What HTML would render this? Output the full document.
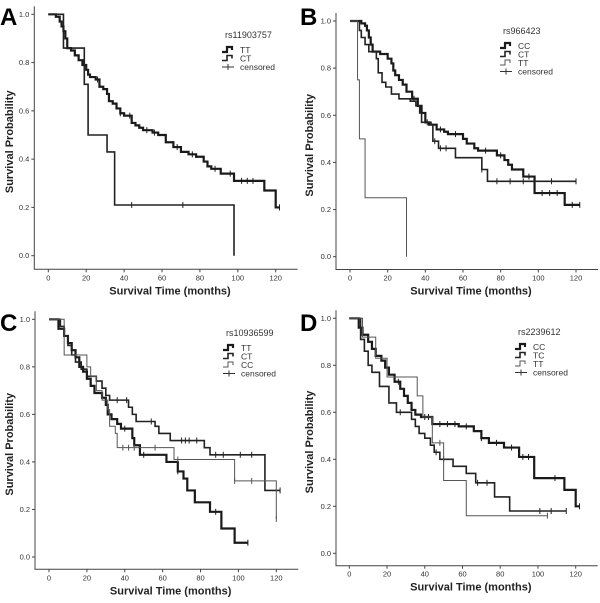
<!DOCTYPE html>
<html><head><meta charset="utf-8"><style>
body{margin:0;background:#fff}
svg{display:block;font-family:"Liberation Sans",sans-serif}
</style></head><body>
<svg id="fig" width="600" height="603" viewBox="0 0 600 603"></svg>
<script>
// ---- data ----
const xTicks=[0,20,40,60,80,100,120];
const yTicks=[0,0.2,0.4,0.6,0.8,1.0];
const yTickLabels=["0.0","0.2","0.4","0.6","0.8","1.0"];
const panelLetters=["A","B","C","D"];
const snpNames=["rs11903757","rs966423","rs10936599","rs2239612"];
const groupsA=["TT","CT"];
const groupsB=["CC","CT","TT"];
const groupsC=["TT","CT","CC"];
const groupsD=["CC","TC","TT"];
const a_TT=[[0,1],[4,0.99],[6,0.97],[7,0.95],[8,0.93],[9,0.9],[10,0.86],[12,0.85],[14,0.83],[16,0.81],[18,0.79],[20,0.77],[21,0.75],[22,0.74],[25,0.73],[27,0.7],[29,0.69],[31,0.67],[32,0.64],[34,0.63],[36,0.61],[38,0.59],[40,0.58],[44,0.55],[46,0.54],[48,0.53],[50,0.52],[55,0.51],[58,0.5],[62,0.47],[66,0.45],[70,0.43],[74,0.42],[78,0.41],[82,0.39],[84,0.37],[86,0.36],[91,0.34],[98,0.31],[114,0.27],[120,0.2],[122,0.2]];
const a_CT=[[0,1],[8,0.86],[19,0.71],[21,0.5],[31,0.43],[35,0.21],[98,0]];
const a_TT_cens=[26,38,43,52,56,68,76,88,96,102,105,108,122];
const a_CT_cens=[44,71];
const b_CC=[[0,1],[6,0.99],[8,0.98],[9,0.96],[10,0.93],[11,0.9],[12,0.87],[16,0.86],[20,0.84],[22,0.82],[23,0.79],[24,0.77],[26,0.75],[28,0.73],[30,0.7],[33,0.67],[36,0.64],[38,0.61],[40,0.57],[42,0.56],[46,0.54],[50,0.53],[52,0.52],[60,0.5],[62,0.48],[66,0.46],[68,0.45],[78,0.43],[82,0.41],[84,0.39],[86,0.37],[92,0.34],[98,0.27],[114,0.22],[122,0.22]];
const b_CT=[[0,1],[5,0.96],[6,0.93],[8,0.9],[10,0.87],[14,0.84],[15,0.78],[17,0.74],[19,0.72],[22,0.69],[26,0.67],[32,0.66],[35,0.64],[37,0.61],[38,0.57],[43,0.56],[44,0.49],[47,0.46],[56,0.42],[70,0.37],[73,0.32],[120,0.32]];
const b_TT=[[0,1],[4,0.75],[5,0.5],[8,0.25],[30,0]];
const b_CC_cens=[34,41,48,56,72,80,95,102,106,110,118,122];
const b_CT_cens=[45,48,51,70,78,85,92,107,120];
const b_TT_cens=[];
const c_TT=[[0,1],[5,0.96],[8,0.93],[10,0.9],[12,0.87],[14,0.84],[16,0.8],[18,0.78],[20,0.75],[22,0.72],[24,0.69],[28,0.67],[30,0.64],[31,0.6],[33,0.58],[36,0.56],[38,0.54],[44,0.5],[45,0.47],[48,0.43],[62,0.4],[68,0.36],[71,0.33],[73,0.28],[77,0.23],[85,0.19],[91,0.12],[98,0.06],[105,0.06]];
const c_CT=[[0,1],[6,0.97],[8,0.93],[10,0.89],[12,0.85],[14,0.82],[17,0.79],[20,0.76],[25,0.74],[28,0.71],[30,0.68],[32,0.66],[42,0.63],[44,0.6],[46,0.57],[56,0.55],[58,0.52],[64,0.49],[82,0.46],[85,0.43],[114,0.28],[122,0.28]];
const c_CC=[[0,1],[8,0.85],[20,0.8],[22,0.76],[25,0.7],[28,0.66],[31,0.62],[32,0.55],[35,0.52],[36,0.46],[66,0.41],[98,0.32],[120,0.16]];
const c_TT_cens=[40,50,68,88,105];
const c_CT_cens=[36,41,54,70,72,74,78,88,92,101,107,122];
const c_CC_cens=[39,42,45,56,68,98,107,120];
const d_CC=[[0,1],[5,0.96],[7,0.93],[10,0.9],[12,0.87],[14,0.84],[17,0.82],[19,0.79],[21,0.76],[24,0.73],[27,0.7],[29,0.67],[31,0.64],[33,0.61],[35,0.59],[38,0.58],[44,0.55],[58,0.54],[66,0.52],[70,0.49],[74,0.47],[82,0.45],[90,0.41],[98,0.32],[114,0.27],[120,0.2],[122,0.2]];
const d_TC=[[0,1],[6,0.91],[8,0.86],[10,0.8],[12,0.77],[16,0.71],[21,0.64],[25,0.6],[33,0.57],[35,0.54],[37,0.51],[40,0.49],[43,0.46],[45,0.43],[48,0.4],[55,0.37],[62,0.34],[67,0.3],[77,0.24],[85,0.18],[115,0.18]];
const d_TT=[[0,1],[7,0.92],[14,0.83],[20,0.75],[36,0.67],[39,0.58],[44,0.47],[50,0.31],[62,0.16],[105,0.16]];
const d_CC_cens=[26,40,42,48,52,56,62,70,78,86,92,95,109,122];
const d_TC_cens=[27,46,50,68,73,101,107,115];
const d_TT_cens=[48,105];

const panels=[
 {ox:0,oy:0,x0:48.3,x120:275.7,y1:14.3,y0:255.7,axL:34.3,axB:269.3,leg:[222,38],groups:groupsA,curves:[a_TT,a_CT],cens:[a_TT_cens,a_CT_cens]},
 {ox:300,oy:0,x0:50,x120:276,y1:21,y0:256.7,axL:36,axB:269.5,leg:[200,34],groups:groupsB,curves:[b_CC,b_CT,b_TT],cens:[b_CC_cens,b_CT_cens,b_TT_cens]},
 {ox:0,oy:300,x0:49,x120:276.3,y1:19.3,y0:257,axL:35,axB:269.3,leg:[223,36],groups:groupsC,curves:[c_TT,c_CT,c_CC],cens:[c_TT_cens,c_CT_cens,c_CC_cens]},
 {ox:300,oy:300,x0:49.3,x120:275.7,y1:18.3,y0:253.3,axL:36,axB:265.7,leg:[215,35],groups:groupsD,curves:[d_CC,d_TC,d_TT],cens:[d_CC_cens,d_TC_cens,d_TT_cens]}
];
const widths=[2.2,1.6,1];
const colors=["#1a1a1a","#222","#555"];
const NS="http://www.w3.org/2000/svg";
const svg=document.getElementById("fig");
function mk(tag,attrs,parent){const e=document.createElementNS(NS,tag);for(const k in attrs)e.setAttribute(k,attrs[k]);parent.appendChild(e);return e;}
function survAt(c,t){let s=c[0][1];for(const p of c){if(p[0]<=t)s=p[1];}return s;}

panels.forEach((P,pi)=>{
 const g=mk("g",{transform:`translate(${P.ox},${P.oy})`},svg);
 
 
 const xs=t=>P.x0+(P.x120-P.x0)*t/120;
 const ys=s=>P.y0-(P.y0-P.y1)*s;
 const ax=mk("path",{d:`M${P.axL},${P.y1-8} V${P.axB} H${P.x120+22}`,fill:"none",stroke:"#444","stroke-width":1},g);
 
 
 xTicks.forEach(v=>{
  mk("line",{x1:xs(v),x2:xs(v),y1:P.axB,y2:P.axB+3,stroke:"#444"},g);
  const t=mk("text",{x:xs(v),y:P.axB+11,"font-size":7.5,"text-anchor":"middle",fill:"#333"},g);
  t.textContent=v;
  
  
 });
 yTicks.forEach((v,i)=>{
  mk("line",{x1:P.axL-3,x2:P.axL,y1:ys(v),y2:ys(v),stroke:"#444"},g);
  const t=mk("text",{x:P.axL-5,y:ys(v)+2.5,"font-size":7.5,"text-anchor":"end",fill:"#333"},g);
  t.textContent=yTickLabels[i];
  
  
 });
 const xt=mk("text",{x:(P.axL+P.x120+22)/2+4,y:P.axB+25,"font-size":11,"font-weight":"bold","text-anchor":"middle",fill:"#222"},g);
 xt.textContent="Survival Time (months)";
 
 
 const yc=(P.y1+P.axB)/2;
 const yt=mk("text",{x:0,y:0,transform:`translate(13,${yc}) rotate(-90)`,"font-size":11,"font-weight":"bold","text-anchor":"middle",fill:"#222"},g);
 yt.textContent="Survival Probability";
 
 
 const lt=mk("text",{x:0,y:P.oy?31:25,"font-size":24,"font-weight":"bold",fill:"#000"},g);
 lt.textContent=panelLetters[pi];
 
 
 P.curves.forEach((c,ci)=>{
  let d=`M${xs(c[0][0])},${ys(c[0][1])}`;
  for(let k=1;k<c.length;k++){d+=` H${xs(c[k][0])} V${ys(c[k][1])}`;}
  const p=mk("path",{d:d,fill:"none",stroke:colors[ci],"stroke-width":widths[ci]},g);
  
  
  P.cens[ci].forEach(t=>{
   const y=ys(survAt(c,t));
   const m=mk("line",{x1:xs(t),x2:xs(t),y1:y-3,y2:y+3,stroke:colors[ci],"stroke-width":1},g);
   
   
  });
 });
 const [lx,ly]=P.leg;
 const lg=mk("g",{},g);
 
 
 const tt=mk("text",{x:lx+3,y:ly,"font-size":9,fill:"#333"},lg);
 tt.textContent=snpNames[pi];
 const entries=P.groups.concat(["censored"]);
 entries.forEach((name,ei)=>{
  const ey=ly+12+ei*8.5;
  if(ei<P.groups.length){
   mk("path",{d:`M${lx},${ey+2} H${lx+5} V${ey-3} H${lx+10} V${ey}`,fill:"none",stroke:colors[ei],"stroke-width":widths[ei]},lg);
  }else{
   mk("line",{x1:lx,x2:lx+12,y1:ey,y2:ey,stroke:"#333"},lg);
   mk("line",{x1:lx+6,x2:lx+6,y1:ey-3,y2:ey+3,stroke:"#333"},lg);
  }
  const et=mk("text",{x:lx+18,y:ey+3,"font-size":8.5,fill:"#333"},lg);
  et.textContent=name;
  
  
 });
});
</script>
</body></html>
